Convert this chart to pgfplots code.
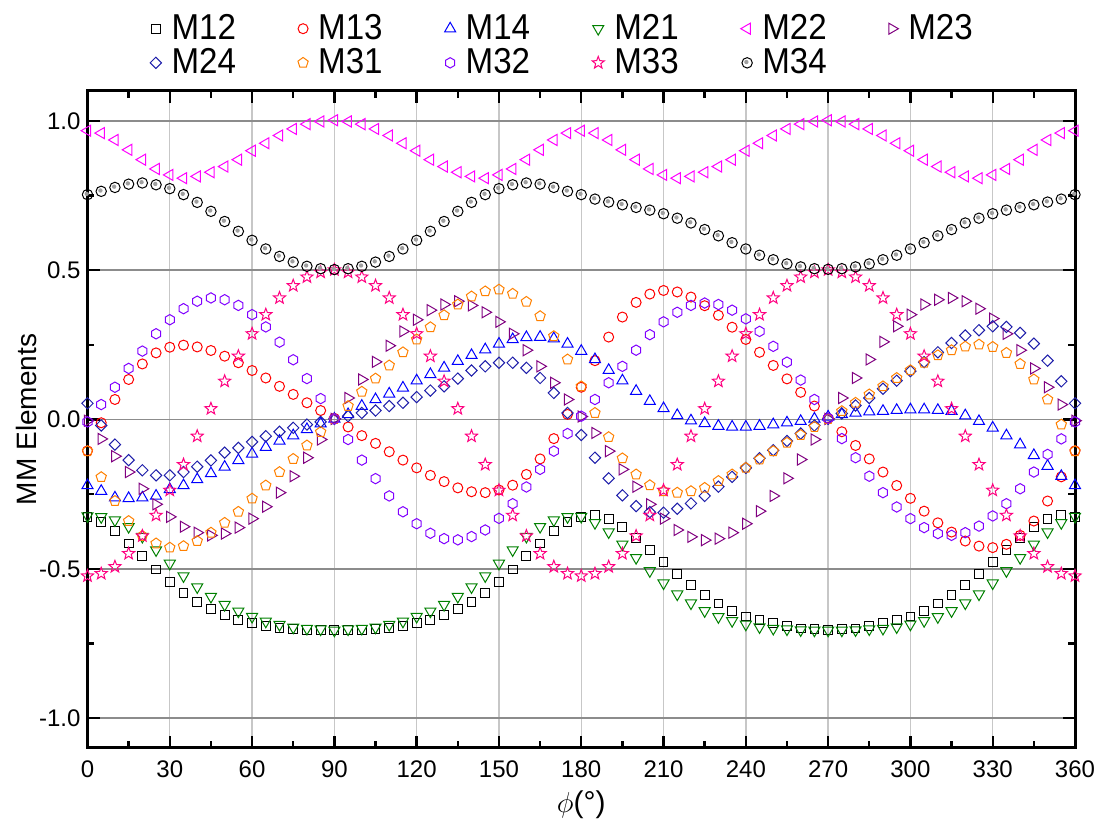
\documentclass[border=0pt]{standalone}
\usepackage{fontspec}
\setmainfont{Liberation Sans}
\newfontfamily\legfont{Liberation Sans}[FakeStretch=0.92]
\usepackage{pgfplots}
\usepackage{pgfplotstable}
\pgfplotsset{compat=1.18}
\usetikzlibrary{plotmarks}

\definecolor{cM12}{RGB}{0,0,0}
\definecolor{cM13}{RGB}{255,0,0}
\definecolor{cM14}{RGB}{0,0,255}
\definecolor{cM21}{RGB}{0,128,0}
\definecolor{cM22}{RGB}{255,0,255}
\definecolor{cM23}{RGB}{128,0,128}
\definecolor{cM24}{RGB}{30,30,170}
\definecolor{cM31}{RGB}{255,128,0}
\definecolor{cM32}{RGB}{128,0,255}
\definecolor{cM33}{RGB}{255,0,128}
\definecolor{cM34}{RGB}{0,0,0}

\pgfdeclareplotmark{hexa}{%
 \pgfpathmoveto{\pgfqpoint{0pt}{\pgfplotmarksize}}%
 \pgfpathlineto{\pgfqpoint{-0.866\pgfplotmarksize}{0.5\pgfplotmarksize}}%
 \pgfpathlineto{\pgfqpoint{-0.866\pgfplotmarksize}{-0.5\pgfplotmarksize}}%
 \pgfpathlineto{\pgfqpoint{0pt}{-\pgfplotmarksize}}%
 \pgfpathlineto{\pgfqpoint{0.866\pgfplotmarksize}{-0.5\pgfplotmarksize}}%
 \pgfpathlineto{\pgfqpoint{0.866\pgfplotmarksize}{0.5\pgfplotmarksize}}%
 \pgfpathclose\pgfusepathqstroke}
\pgfdeclareplotmark{ostar}{%
 \pgfpathmoveto{\pgfqpoint{0pt}{\pgfplotmarksize}}%
 \pgfpathlineto{\pgfqpoint{-0.247\pgfplotmarksize}{0.340\pgfplotmarksize}}%
 \pgfpathlineto{\pgfqpoint{-0.951\pgfplotmarksize}{0.309\pgfplotmarksize}}%
 \pgfpathlineto{\pgfqpoint{-0.400\pgfplotmarksize}{-0.130\pgfplotmarksize}}%
 \pgfpathlineto{\pgfqpoint{-0.588\pgfplotmarksize}{-0.809\pgfplotmarksize}}%
 \pgfpathlineto{\pgfqpoint{0pt}{-0.420\pgfplotmarksize}}%
 \pgfpathlineto{\pgfqpoint{0.588\pgfplotmarksize}{-0.809\pgfplotmarksize}}%
 \pgfpathlineto{\pgfqpoint{0.400\pgfplotmarksize}{-0.130\pgfplotmarksize}}%
 \pgfpathlineto{\pgfqpoint{0.951\pgfplotmarksize}{0.309\pgfplotmarksize}}%
 \pgfpathlineto{\pgfqpoint{0.247\pgfplotmarksize}{0.340\pgfplotmarksize}}%
 \pgfpathclose\pgfusepathqstroke}
\pgfdeclareplotmark{ballring}{%
 \pgfpathcircle{\pgfpointorigin}{\pgfplotmarksize}\pgfusepathqstroke
 \pgfsetfillcolor{gray!75}%
 \pgfpathcircle{\pgfqpoint{-0.15\pgfplotmarksize}{0.15\pgfplotmarksize}}{0.42\pgfplotmarksize}\pgfusepathqfill}

\pgfplotstableread{
phi M12 M13 M14 M21 M22 M23 M24 M31 M32 M33 M34
0 -0.327 -0.105 -0.221 -0.323 0.967 -0.004 0.054 -0.106 -0.008 -0.524 0.753
5 -0.342 -0.011 -0.240 -0.326 0.959 -0.065 -0.020 -0.193 0.050 -0.516 0.764
10 -0.373 0.067 -0.262 -0.337 0.936 -0.123 -0.084 -0.273 0.108 -0.493 0.777
15 -0.415 0.134 -0.264 -0.359 0.903 -0.176 -0.136 -0.340 0.171 -0.449 0.788
20 -0.457 0.186 -0.262 -0.392 0.870 -0.232 -0.170 -0.390 0.229 -0.390 0.792
25 -0.502 0.223 -0.256 -0.437 0.839 -0.284 -0.187 -0.415 0.287 -0.321 0.786
30 -0.544 0.242 -0.234 -0.482 0.819 -0.326 -0.187 -0.429 0.334 -0.237 0.773
35 -0.580 0.249 -0.221 -0.524 0.808 -0.359 -0.176 -0.424 0.371 -0.151 0.753
40 -0.611 0.243 -0.201 -0.561 0.814 -0.379 -0.158 -0.407 0.396 -0.056 0.727
45 -0.635 0.231 -0.181 -0.593 0.828 -0.388 -0.137 -0.379 0.407 0.036 0.697
50 -0.656 0.212 -0.159 -0.620 0.847 -0.382 -0.111 -0.346 0.401 0.128 0.663
55 -0.671 0.190 -0.137 -0.642 0.870 -0.362 -0.095 -0.309 0.382 0.212 0.630
60 -0.682 0.164 -0.115 -0.660 0.900 -0.332 -0.075 -0.265 0.351 0.287 0.600
65 -0.691 0.139 -0.093 -0.676 0.925 -0.292 -0.056 -0.221 0.310 0.351 0.571
70 -0.698 0.111 -0.072 -0.687 0.951 -0.245 -0.041 -0.176 0.259 0.407 0.546
75 -0.702 0.084 -0.054 -0.696 0.973 -0.190 -0.028 -0.132 0.200 0.448 0.527
80 -0.705 0.056 -0.033 -0.700 0.989 -0.128 -0.017 -0.087 0.137 0.477 0.513
85 -0.706 0.030 -0.014 -0.702 0.998 -0.067 -0.008 -0.042 0.070 0.493 0.505
90 -0.706 0.004 0.002 -0.706 1.002 0.002 0.002 0.002 0.002 0.501 0.502
95 -0.706 -0.025 0.017 -0.702 0.998 0.072 0.011 0.045 -0.067 0.493 0.505
100 -0.705 -0.054 0.045 -0.700 0.989 0.134 0.022 0.093 -0.136 0.477 0.513
105 -0.702 -0.080 0.067 -0.696 0.973 0.193 0.030 0.137 -0.198 0.448 0.527
110 -0.698 -0.108 0.086 -0.687 0.951 0.247 0.045 0.181 -0.256 0.407 0.546
115 -0.691 -0.136 0.106 -0.676 0.925 0.295 0.056 0.225 -0.309 0.351 0.571
120 -0.682 -0.162 0.130 -0.660 0.900 0.334 0.075 0.268 -0.349 0.287 0.600
125 -0.671 -0.187 0.151 -0.642 0.870 0.366 0.097 0.309 -0.381 0.212 0.630
130 -0.656 -0.208 0.173 -0.620 0.847 0.385 0.111 0.349 -0.399 0.128 0.663
135 -0.635 -0.229 0.195 -0.593 0.828 0.396 0.137 0.385 -0.403 0.036 0.697
140 -0.611 -0.242 0.215 -0.561 0.814 0.382 0.164 0.412 -0.392 -0.056 0.727
145 -0.580 -0.245 0.234 -0.524 0.808 0.359 0.178 0.429 -0.370 -0.151 0.753
150 -0.544 -0.236 0.253 -0.482 0.819 0.327 0.190 0.435 -0.331 -0.237 0.773
155 -0.502 -0.220 0.268 -0.437 0.839 0.287 0.190 0.421 -0.282 -0.321 0.786
160 -0.457 -0.184 0.275 -0.392 0.870 0.232 0.173 0.394 -0.226 -0.390 0.792
165 -0.415 -0.132 0.276 -0.359 0.903 0.178 0.139 0.346 -0.167 -0.449 0.788
170 -0.373 -0.064 0.271 -0.337 0.936 0.123 0.089 0.279 -0.106 -0.493 0.777
175 -0.342 0.017 0.253 -0.326 0.959 0.067 0.022 0.201 -0.047 -0.516 0.764
180 -0.327 0.108 0.229 -0.325 0.967 0.010 -0.052 0.111 0.011 -0.524 0.753
185 -0.320 0.197 0.201 -0.346 0.959 -0.045 -0.128 0.022 0.067 -0.516 0.738
190 -0.332 0.276 0.165 -0.377 0.936 -0.106 -0.197 -0.059 0.123 -0.493 0.728
195 -0.359 0.343 0.130 -0.418 0.903 -0.167 -0.254 -0.130 0.178 -0.449 0.719
200 -0.396 0.392 0.095 -0.463 0.870 -0.225 -0.290 -0.184 0.232 -0.390 0.710
205 -0.437 0.420 0.061 -0.507 0.839 -0.284 -0.310 -0.220 0.284 -0.321 0.701
210 -0.477 0.432 0.037 -0.548 0.819 -0.332 -0.312 -0.240 0.327 -0.237 0.689
215 -0.518 0.427 0.014 -0.585 0.808 -0.370 -0.299 -0.245 0.359 -0.151 0.674
220 -0.555 0.410 -0.004 -0.615 0.814 -0.393 -0.281 -0.240 0.382 -0.056 0.658
225 -0.589 0.381 -0.013 -0.641 0.828 -0.404 -0.256 -0.229 0.390 0.036 0.636
230 -0.616 0.349 -0.022 -0.661 0.847 -0.399 -0.225 -0.206 0.385 0.128 0.615
235 -0.641 0.309 -0.025 -0.674 0.870 -0.379 -0.192 -0.184 0.366 0.212 0.592
240 -0.660 0.268 -0.025 -0.686 0.900 -0.349 -0.162 -0.162 0.337 0.287 0.571
245 -0.671 0.225 -0.022 -0.695 0.925 -0.307 -0.130 -0.134 0.295 0.351 0.550
250 -0.682 0.181 -0.017 -0.700 0.951 -0.256 -0.103 -0.106 0.245 0.407 0.535
255 -0.691 0.136 -0.011 -0.702 0.973 -0.197 -0.072 -0.078 0.192 0.448 0.521
260 -0.700 0.091 -0.006 -0.705 0.989 -0.134 -0.047 -0.052 0.132 0.477 0.511
265 -0.702 0.045 0.002 -0.706 0.998 -0.067 -0.020 -0.025 0.067 0.493 0.505
270 -0.705 0.004 0.009 -0.706 1.002 0.002 0.002 0.002 0.004 0.501 0.503
275 -0.702 -0.041 0.017 -0.706 0.998 0.072 0.020 0.028 -0.064 0.493 0.505
280 -0.700 -0.087 0.022 -0.705 0.989 0.139 0.047 0.056 -0.128 0.477 0.511
285 -0.691 -0.132 0.026 -0.702 0.973 0.201 0.072 0.084 -0.190 0.448 0.521
290 -0.682 -0.176 0.028 -0.700 0.951 0.260 0.103 0.111 -0.245 0.407 0.535
295 -0.671 -0.221 0.031 -0.695 0.925 0.312 0.130 0.139 -0.293 0.351 0.550
300 -0.660 -0.264 0.033 -0.686 0.900 0.351 0.162 0.165 -0.332 0.287 0.571
305 -0.641 -0.307 0.033 -0.674 0.870 0.385 0.192 0.190 -0.362 0.212 0.592
310 -0.616 -0.346 0.031 -0.661 0.847 0.401 0.225 0.215 -0.382 0.128 0.615
315 -0.589 -0.377 0.028 -0.641 0.828 0.407 0.256 0.232 -0.388 0.036 0.636
320 -0.555 -0.407 0.013 -0.615 0.814 0.396 0.281 0.244 -0.379 -0.056 0.658
325 -0.518 -0.424 -0.006 -0.585 0.808 0.371 0.299 0.251 -0.357 -0.151 0.674
330 -0.477 -0.429 -0.028 -0.548 0.819 0.338 0.312 0.243 -0.323 -0.237 0.689
335 -0.437 -0.418 -0.054 -0.507 0.839 0.287 0.310 0.223 -0.282 -0.321 0.701
340 -0.396 -0.388 -0.084 -0.463 0.870 0.232 0.290 0.186 -0.232 -0.390 0.710
345 -0.359 -0.340 -0.120 -0.418 0.903 0.171 0.254 0.134 -0.176 -0.449 0.719
350 -0.332 -0.273 -0.156 -0.377 0.936 0.108 0.197 0.067 -0.117 -0.493 0.728
355 -0.320 -0.192 -0.190 -0.346 0.959 0.050 0.128 -0.017 -0.065 -0.516 0.738
360 -0.327 -0.105 -0.221 -0.325 0.967 -0.004 0.054 -0.106 -0.008 -0.524 0.753
}\mmdata

\begin{document}
\begin{tikzpicture}
\path[use as bounding box] (-43.75pt,-37.5pt) rectangle (508.25pt,374pt);
\begin{axis}[
  at={(0pt,0pt)}, anchor=south west,
  scale only axis, width=493.75pt, height=328.5pt,
  xmin=0, xmax=360, ymin=-1.1, ymax=1.1,
  xtick={0,30,...,360}, minor x tick num=1,
  ytick={-1,-0.5,0,0.5,1}, yticklabels={-1.0,-0.5,0.0,0.5,1.0},
  minor y tick num=1,
  tick align=inside, major tick length=6pt, minor tick length=3.5pt,
  every tick/.style={black, line width=1.2pt},
  axis line style={line width=1.5pt},
  xmajorgrids, ymajorgrids,
  x grid style={black!22, line width=0.7pt},
  y grid style={black!45, line width=0.7pt},
  /pgf/number format/assume math mode=true,
  tick label style={font=\fontsize{12}{14}\selectfont},
  xticklabel style={yshift=-3pt},
  xlabel={$\phi$(°)},
  ylabel={MM Elements},
  xlabel style={font=\fontsize{15}{17}\selectfont, at={(axis description cs:0.5,0)}, anchor=center, yshift=-28.5pt},
  ylabel style={font=\fontsize{14}{16}\selectfont, at={(axis description cs:-0.0613,0.5)}, anchor=center},
  legend columns=6,
  legend cell align=left,
  legend style={at={(rel axis cs:0.057,1.129)}, anchor=north west, draw=none, fill=none,
    font=\legfont\fontsize{18}{20}\selectfont, row sep=-1pt,
    /tikz/every even column/.append style={column sep=29pt}},
  every axis plot/.append style={only marks, line width=0.5pt},
]
\addplot[cM12, mark=square, mark size=2.2pt] table[x=phi,y=M12]{\mmdata};
\addlegendentry{\hspace{3pt}M12}
\addplot[cM13, mark=o, mark size=2.5pt] table[x=phi,y=M13]{\mmdata};
\addlegendentry{\hspace{3pt}M13}
\addplot[cM14, mark=triangle, mark size=3.2pt] table[x=phi,y=M14]{\mmdata};
\addlegendentry{\hspace{3pt}M14}
\addplot[cM21, mark=triangle, mark size=3.2pt, mark options={rotate=180}] table[x=phi,y=M21]{\mmdata};
\addlegendentry{\hspace{3pt}M21}
\addplot[cM22, mark=triangle, mark size=3.2pt, mark options={rotate=90}] table[x=phi,y=M22]{\mmdata};
\addlegendentry{\hspace{3pt}M22}
\addplot[cM23, mark=triangle, mark size=3.2pt, mark options={rotate=-90}] table[x=phi,y=M23]{\mmdata};
\addlegendentry{\hspace{3pt}M23}
\addplot[cM24, mark=square, mark size=2pt, mark options={rotate=45}] table[x=phi,y=M24]{\mmdata};
\addlegendentry{\hspace{3pt}M24}
\addplot[cM31, mark=pentagon, mark size=2.7pt] table[x=phi,y=M31]{\mmdata};
\addlegendentry{\hspace{3pt}M31}
\addplot[cM32, mark=hexa, mark size=2.6pt] table[x=phi,y=M32]{\mmdata};
\addlegendentry{\hspace{3pt}M32}
\addplot[cM33, mark=ostar, mark size=3.2pt] table[x=phi,y=M33]{\mmdata};
\addlegendentry{\hspace{3pt}M33}
\addplot[cM34, mark=ballring, mark size=2.6pt] table[x=phi,y=M34]{\mmdata};
\addlegendentry{\hspace{3pt}M34}
\end{axis}
\end{tikzpicture}
\end{document}
